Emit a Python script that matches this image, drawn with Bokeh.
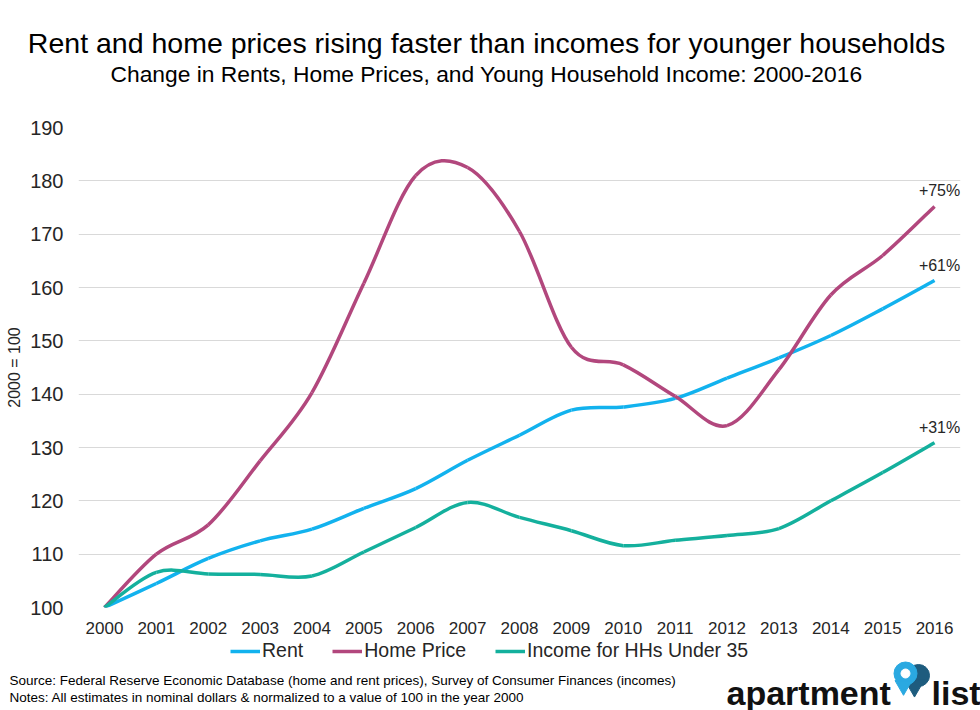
from bokeh.plotting import figure
from bokeh.models import FixedTicker, Legend, LegendItem, ColumnDataSource
from bokeh.layouts import column
from bokeh.core.properties import value
from bokeh.embed import file_html
from bokeh.resources import INLINE

# ---------------- data ----------------
years = ["2000", "2001", "2002", "2003", "2004", "2005", "2006", "2007", "2008",
         "2009", "2010", "2011", "2012", "2013", "2014", "2015", "2016"]
rent = [100, 104.5, 109.2, 112.5, 114.7, 118.6, 122.3, 127.6, 132.3,
        137.0, 137.6, 139.2, 143.0, 146.8, 151.0, 156.0, 161.3]
home_price = [100, 110.0, 115.5, 127.5, 140.3, 160.8, 181.0, 182.5, 170.5,
              148.8, 145.5, 139.6, 134.1, 144.6, 158.6, 166.0, 175.2]
income = [100, 106.6, 106.3, 106.2, 105.9, 110.4, 115.0, 119.7, 116.9,
          114.4, 111.6, 112.6, 113.5, 114.8, 120.0, 125.3, 130.9]
y_ticks = [100, 110, 120, 130, 140, 150, 160, 170, 180, 190]

series_names = ["Rent", "Home Price", "Income for HHs Under 35"]
series_values = [rent, home_price, income]
series_colors = ["#12B2EE", "#B2477D", "#14B09D"]

title_text = "Rent and home prices rising faster than incomes for younger households"
subtitle_text = "Change in Rents, Home Prices, and Young Household Income: 2000-2016"
source_text = ("Source: Federal Reserve Economic Database (home and rent prices), "
               "Survey of Consumer Finances (incomes)")
notes_text = "Notes: All estimates in nominal dollars & normalized to a value of 100 in the year 2000"

FONT = "Liberation Sans"
W = 980

# ---------------- helpers ----------------
def bezier_source(ys):
    xs = list(range(len(ys)))
    n = len(ys)
    d = dict(x0=[], y0=[], x1=[], y1=[], cx0=[], cy0=[], cx1=[], cy1=[])
    for i in range(n - 1):
        a = i - 1 if i > 0 else i
        b = i + 2 if i + 2 < n else i + 1
        d["x0"].append(xs[i]); d["y0"].append(ys[i])
        d["x1"].append(xs[i + 1]); d["y1"].append(ys[i + 1])
        d["cx0"].append(xs[i] + (xs[i + 1] - xs[a]) / 6.0)
        d["cy0"].append(ys[i] + (ys[i + 1] - ys[a]) / 6.0)
        d["cx1"].append(xs[i + 1] - (xs[b] - xs[i]) / 6.0)
        d["cy1"].append(ys[i + 1] - (ys[b] - ys[i]) / 6.0)
    return ColumnDataSource(d)


def blank(height):
    f = figure(width=W, height=height, x_range=(0, W), y_range=(0, height),
               output_backend="svg", toolbar_location=None, frame_align=False,
               min_border_left=0, min_border_right=0, min_border_top=0, min_border_bottom=0)
    f.axis.visible = False
    f.grid.visible = False
    f.outline_line_color = None
    return f

# ---------------- header ----------------
H_HEAD = 98
head = blank(H_HEAD)
head.text(x=[486], y=[H_HEAD - 42], text=[title_text], text_align="center",
          text_baseline="middle", text_font=value(FONT), text_font_size="28.5px",
          text_color="#000000")
head.text(x=[486], y=[H_HEAD - 73], text=[subtitle_text], text_align="center",
          text_baseline="middle", text_font=value(FONT), text_font_size="22.8px",
          text_color="#000000")

# ---------------- main chart ----------------
p = figure(width=W, height=542, x_range=(-0.5, 16.5), y_range=(100, 190),
           output_backend="svg", toolbar_location=None, frame_align=False,
           min_border_left=78, min_border_right=20, min_border_top=29, min_border_bottom=33)
p.outline_line_color = None
p.xgrid.visible = False
p.ygrid.grid_line_color = "#D9D9D9"
p.ygrid.grid_line_width = 1.2
p.yaxis.ticker = FixedTicker(ticks=y_ticks)
p.xaxis.ticker = FixedTicker(ticks=list(range(len(years))))
p.xaxis.major_label_overrides = {i: y for i, y in enumerate(years)}

for ax in (p.xaxis[0], p.yaxis[0]):
    ax.axis_line_color = None
    ax.major_tick_line_color = None
    ax.minor_tick_line_color = None
    ax.major_tick_out = 0
    ax.major_tick_in = 0
    ax.minor_tick_out = 0
    ax.major_label_text_font = FONT
    ax.major_label_text_color = "#262626"

p.yaxis.major_label_text_font_size = "20px"
p.yaxis.major_label_standoff = 15
p.xaxis.major_label_text_font_size = "17px"
p.xaxis.major_label_standoff = 14
p.yaxis.axis_label = "2000 = 100"
p.yaxis.axis_label_text_font = FONT
p.yaxis.axis_label_text_font_size = "16px"
p.yaxis.axis_label_text_font_style = "normal"
p.yaxis.axis_label_text_color = "#262626"
p.yaxis.axis_label_standoff = 4

for name, vals, col in zip(series_names, series_values, series_colors):
    p.bezier(x0="x0", y0="y0", x1="x1", y1="y1", cx0="cx0", cy0="cy0",
             cx1="cx1", cy1="cy1", source=bezier_source(vals),
             line_color=col, line_width=3.5)
    last = vals[-1]
    p.text(x=[len(vals) - 1], y=[last], text=["+%d%%" % round(last - 100)],
           text_align="center", text_baseline="bottom", x_offset=5, y_offset=-7,
           text_font=value(FONT), text_font_size="16px", text_color="#262626")

# ---------------- footer (legend, notes, logo) ----------------
H_FOOT = 70
foot = blank(H_FOOT)
items = []
for name, col in zip(series_names, series_colors):
    # off-screen stand-in renderer so the legend can draw its line swatch
    r = foot.line(x=[-50, -40], y=[-50, -50], line_color=col, line_width=3.5)
    items.append(LegendItem(label=name, renderers=[r]))
legend = Legend(items=items, orientation="horizontal", location=(230, 48),
                glyph_width=30, glyph_height=22, label_standoff=2, spacing=29,
                padding=0, margin=0, border_line_color=None,
                background_fill_alpha=0, label_text_font=FONT,
                label_text_font_size="19.5px", label_text_color="#262626",
                label_height=22)
foot.add_layout(legend)

foot.text(x=[9], y=[30], text=[source_text], text_baseline="middle",
          text_font=value(FONT), text_font_size="13.5px", text_color="#000000")
foot.text(x=[9], y=[13], text=[notes_text], text_baseline="middle",
          text_font=value(FONT), text_font_size="13.5px", text_color="#000000")
foot.text(x=[726], y=[18], text=["apartment"], text_baseline="alphabetic",
          text_font=value(FONT), text_font_size="34px", text_font_style="bold",
          text_color="#111111")
foot.text(x=[931], y=[18], text=["list"], text_baseline="alphabetic",
          text_font=value(FONT), text_font_size="34px", text_font_style="bold",
          text_color="#111111")
# pin icon
foot.scatter(x=[918], y=[35], marker="circle", size=22, color="#1E5C7E")
foot.scatter(x=[914], y=[25], marker="inverted_triangle", size=20, color="#1E5C7E")
foot.scatter(x=[905], y=[37], marker="circle", size=23, color="#2AA9E1")
foot.scatter(x=[903], y=[25], marker="inverted_triangle", size=17, color="#2AA9E1")
foot.scatter(x=[905], y=[37], marker="circle", size=9, color="#FFFFFF")

layout = column(head, p, foot, spacing=0)
open("out.html", "w").write(file_html(layout, INLINE))
